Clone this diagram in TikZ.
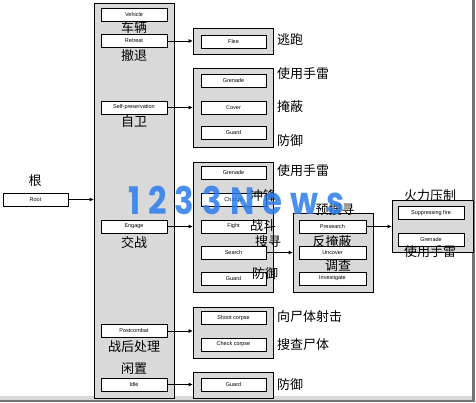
\documentclass[tikz,border=0pt]{standalone}
\usepackage{fontspec}
\setmainfont{Liberation Sans}
\newfontfamily\cjk{Noto Sans CJK SC}
\newfontfamily\markfont{Poppins}[LetterSpace=25]
\usetikzlibrary{arrows.meta}
\definecolor{dotgray}{gray}{0.85}
\definecolor{markblue}{RGB}{45,125,235}

\begin{document}
\begin{tikzpicture}[x=1pt,y=-1pt,
  panel/.style={draw=black,fill=dotgray,line width=0.6pt,inner sep=0pt},
  item/.style={draw=black,fill=white,line width=0.6pt,inner sep=0pt,
    minimum width=66pt,minimum height=13pt,font=\fontsize{5.5}{6}\selectfont},
  cn/.style={inner sep=0pt,font=\cjk\fontsize{13}{14}\selectfont},
  link/.style={-{Latex[length=4pt,width=4pt]},line width=0.6pt}]
\useasboundingbox (0,0) rectangle (476,403);

% shadow of the frame
\fill[black!15] (0,396) rectangle (472,399.5);
\fill[black!55] (472,0) rectangle (475,402);
\fill[black!55] (0,399.5) rectangle (475,402);

% root
\node[item,minimum width=65pt] (root) at (35.5,199.5) {Root};
\node[cn] (rootcn) at (35,181) {根};

% behaviours
\node[panel,minimum width=80pt,minimum height=395pt] (behaviours) at (134,200.5) {};
\node[item] (vehicle) at (134,15) {Vehicle};
\node[item] (retreat) at (134,41) {Retreat};
\node[item] (selfpres) at (134,107.5) {Self-preservation};
\node[item] (engage) at (134,226.5) {Engage};
\node[item] (postcombat) at (134,331) {Postcombat};
\node[item] (idle) at (134,384.5) {Idle};
\node[cn] (vehiclecn) at (134,28) {车辆};
\node[cn] (retreatcn) at (134,56) {撤退};
\node[cn] (selfprescn) at (134,122) {自卫};
\node[cn] (engagecn) at (134,243) {交战};
\node[cn] (postcombatcn) at (134,347) {战后处理};
\node[cn] (idlecn) at (134,369) {闲置};

% first column
\node[panel,minimum width=80pt,minimum height=26pt] (fleebox) at (233,41) {};
\node[item,minimum width=65pt] (flee) at (233.5,42) {Flee};
\node[panel,minimum width=80pt,minimum height=79pt] (selfbox) at (233,107.5) {};
\node[item,minimum width=65pt] (grenade1) at (233.5,80.5) {Grenade};
\node[item,minimum width=65pt] (cover) at (233.5,107.5) {Cover};
\node[item,minimum width=65pt] (guard1) at (233.5,132.5) {Guard};
\node[panel,minimum width=80pt,minimum height=130pt] (engagebox) at (233,227) {};
\node[item,minimum width=65pt] (grenade2) at (233.5,172.5) {Grenade};
\node[item,minimum width=65pt] (charge) at (233.5,200) {Charge};
\node[item,minimum width=65pt] (fight) at (233.5,226.5) {Fight};
\node[item,minimum width=65pt] (search) at (233.5,252.5) {Search};
\node[item,minimum width=65pt] (guard2) at (233.5,278.5) {Guard};
\node[panel,minimum width=80pt,minimum height=51pt] (postbox) at (233,332.5) {};
\node[item,minimum width=65pt] (shoot) at (233.5,318) {Shoot corpse};
\node[item,minimum width=65pt] (check) at (233.5,344.5) {Check corpse};
\node[panel,minimum width=80pt,minimum height=26pt] (idlebox) at (233,385) {};
\node[item,minimum width=65pt] (guard3) at (233.5,384.5) {Guard};

\node[cn,anchor=west] (fleecn) at (277,40) {逃跑};
\node[cn,anchor=west] (grenade1cn) at (277,74) {使用手雷};
\node[cn,anchor=west] (covercn) at (277,107) {掩蔽};
\node[cn,anchor=west] (guard1cn) at (277,141) {防御};
\node[cn,anchor=west] (grenade2cn) at (277,171) {使用手雷};
\node[cn] (chargecn) at (263,196) {冲锋};
\node[cn] (fightcn) at (263,226) {战斗};
\node[cn] (searchcn) at (268,242) {搜寻};
\node[cn] (guard2cn) at (265,274) {防御};
\node[cn,anchor=west] (shootcn) at (277,317) {向尸体射击};
\node[cn,anchor=west] (checkcn) at (277,345) {搜查尸体};
\node[cn,anchor=west] (guard3cn) at (277,385) {防御};

% second column
\node[panel,minimum width=80pt,minimum height=79pt] (searchbox) at (333,252.5) {};
\node[item,minimum width=67pt] (presearch) at (332.5,226.5) {Presearch};
\node[item,minimum width=67pt] (uncover) at (332.5,252.5) {Uncover};
\node[item,minimum width=67pt] (investigate) at (332.5,278.5) {Investigate};
\node[cn] (presearchcn) at (335,210) {预搜寻};
\node[cn] (uncovercn) at (332,242) {反掩蔽};
\node[cn] (investigatecn) at (338,266) {调查};

% third column
\node[panel,minimum width=81pt,minimum height=52pt] (firebox) at (432.5,226) {};
\node[item] (suppress) at (431,213) {Suppressing fire};
\node[item] (grenade3) at (431,239.5) {Grenade};
\node[cn] (suppresscn) at (430,196) {火力压制};
\node[cn] (grenade3cn) at (430,252) {使用手雷};

% links
\draw[link] (root.east) -- (root.east -| behaviours.west);
\draw[link] (retreat.east) -- (retreat.east -| fleebox.west);
\draw[link] (selfpres.east) -- (selfpres.east -| selfbox.west);
\draw[link] (engage.east) -- (engage.east -| engagebox.west);
\draw[link] (postcombat.east) -- (postcombat.east -| postbox.west);
\draw[link] (idle.east) -- (idle.east -| idlebox.west);
\draw[link] (search.east) -- (search.east -| searchbox.west);
\draw[link] (presearch.east) -- (presearch.east -| firebox.west);

% watermark
\node[inner sep=0pt,anchor=base west,xscale=0.85,text=markblue,text opacity=0.85,
  font=\markfont\bfseries\fontsize{38}{38}\selectfont] (watermark) at (128,215) {1233News};
\end{tikzpicture}
\end{document}
